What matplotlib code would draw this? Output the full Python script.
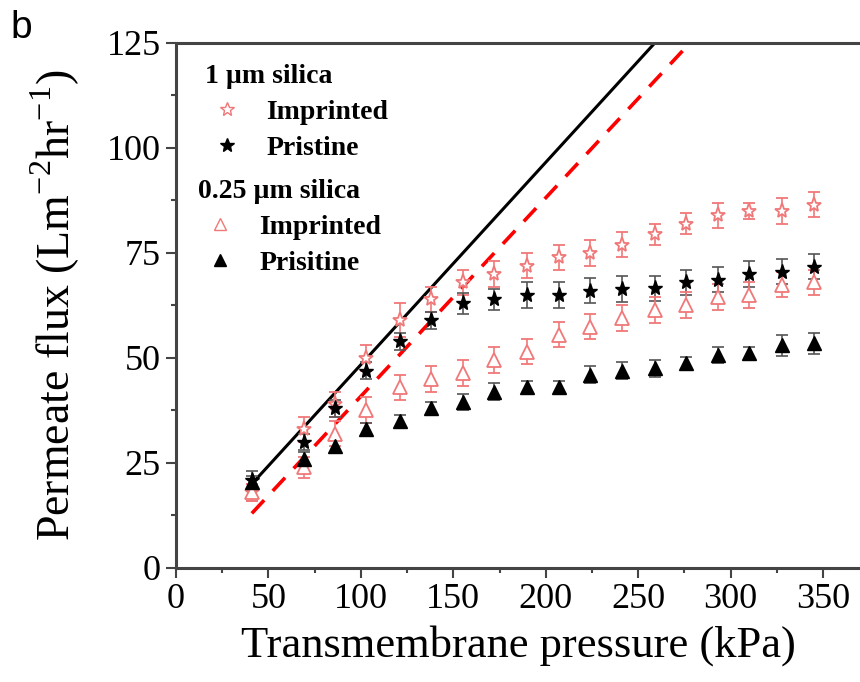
import matplotlib.pyplot as plt
from matplotlib.lines import Line2D

# pressure (kPa)
tmp = [41, 69, 86, 103, 121, 138, 155, 172, 190, 207, 224, 241, 259, 276, 293, 310, 328, 345]

# 1 um silica
imp_1um = [18, 33, 39, 50, 59, 64, 68, 70, 72, 74, 75, 77, 79.5, 82, 84, 85, 85, 86.5]
imp_1um_err = [2, 3, 3, 3, 4, 3, 3, 3, 3, 3, 3, 3, 2.5, 2.5, 3, 2, 3, 3]
pri_1um = [21, 30, 38, 47, 54, 59, 63, 64, 65, 65, 66, 66.4, 66.6, 68, 68.6, 70, 70.5, 71.7]
pri_1um_err = [2, 2, 2, 2, 2, 2, 2.5, 2.5, 3, 3, 3, 3, 3, 3, 3, 3, 3, 3]

# 0.25 um silica
imp_025 = [18, 24, 32, 37.6, 43, 45, 46.4, 49.5, 51.5, 55.5, 57.4, 59.5, 61.4, 62.6, 64.5, 65, 67.4, 68]
imp_025_err = [2, 2.5, 3, 3, 3, 3, 3, 3, 3, 3, 3, 3, 3, 3, 3, 3, 3, 3]
pri_025 = [20.5, 26, 29, 33, 35, 38, 39.5, 42, 43, 43, 46, 47, 47.5, 48.8, 50.7, 51.2, 53, 53.5]
pri_025_err = [1.5, 1.5, 1.5, 1.5, 1.5, 1.5, 2, 2, 1.5, 1.5, 2, 2, 2, 1.5, 2, 1.5, 2.5, 2.5]

# linear fits (x endpoints, y endpoints)
fit_pri_x = [41, 259]
fit_pri_y = [20, 125]
fit_imp_x = [41, 278]
fit_imp_y = [13, 125]

pink = "#f07878"

plt.rcParams["font.family"] = ["Liberation Serif", "DejaVu Serif"]
plt.rcParams["mathtext.fontset"] = "custom"
plt.rcParams["mathtext.rm"] = "Liberation Serif"

fig = plt.figure(figsize=(8.6, 6.82), dpi=100)
ax = fig.add_axes([0.2047, 0.1672, 0.7953, 0.7698])

ax.plot(fit_pri_x, fit_pri_y, color="black", lw=2.2, zorder=2)
ax.plot(fit_imp_x, fit_imp_y, color="red", lw=2.6, ls=(0, (5, 3.5)), zorder=2)

eb = dict(capsize=4, elinewidth=1.2, capthick=1.2, ls="none", zorder=3)
ax.errorbar(tmp, imp_1um, yerr=imp_1um_err, marker="*", ms=11, mfc="white",
            mec=pink, mew=1.3, ecolor=pink, **eb)
ax.errorbar(tmp, pri_1um, yerr=pri_1um_err, marker="*", ms=11, mfc="black",
            mec="black", ecolor="#555555", **eb)
ax.errorbar(tmp, imp_025, yerr=imp_025_err, marker="^", ms=10, mfc="white",
            mec=pink, mew=1.3, ecolor=pink, **eb)
ax.errorbar(tmp, pri_025, yerr=pri_025_err, marker="^", ms=10, mfc="black",
            mec="black", ecolor="#555555", **eb)

ax.set_xlim(0, 370)
ax.set_ylim(0, 125)
ax.set_xticks(range(0, 351, 50))
ax.set_xticks(range(25, 351, 50), minor=True)
ax.set_yticks(range(0, 126, 25))
ax.set_yticks([12.5 + 25 * i for i in range(5)], minor=True)
ax.tick_params(which="both", direction="out", labelsize=26, width=1.5, color="#444444")
ax.tick_params(which="major", length=7, pad=4)
ax.tick_params(which="minor", length=3.5)
for s in ["left", "bottom", "top"]:
    ax.spines[s].set_linewidth(2.2)
    ax.spines[s].set_color("#444444")
ax.spines["right"].set_visible(False)

ax.set_xlabel("Transmembrane pressure (kPa)", fontsize=32, labelpad=6)
ax.set_ylabel("Permeate flux (Lm$^{\\mathregular{-2}}$hr$^{\\mathregular{-1}}$)", fontsize=33, labelpad=18)

# legends
h1 = [Line2D([], [], marker="*", ms=10, mfc="white", mec=pink, ls="none"),
      Line2D([], [], marker="*", ms=10, mfc="black", mec="black", ls="none")]
h2 = [Line2D([], [], marker="^", ms=9, mfc="white", mec=pink, ls="none"),
      Line2D([], [], marker="^", ms=9, mfc="black", mec="black", ls="none")]
lp = dict(frameon=False, prop={"weight": "bold", "size": 20}, handletextpad=0.6,
          handlelength=1.6, labelspacing=0.38, alignment="left", borderpad=0.3,
          title_fontproperties={"weight": "bold", "size": 20})
leg1 = ax.legend(h1, ["Imprinted", "Pristine"], title="1 \u00b5m silica",
                 loc="upper left", bbox_to_anchor=(0.01, 1.003), **lp)
ax.add_artist(leg1)
ax.legend(h2, ["Imprinted", "Prisitine"], title="0.25 \u00b5m silica",
          loc="upper left", bbox_to_anchor=(0.0, 0.783), **lp)

fig.text(0.012, 0.945, "b", fontsize=28, family="Liberation Sans")

fig.savefig("out.png", dpi=100)
